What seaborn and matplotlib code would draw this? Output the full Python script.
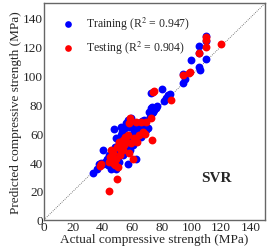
import matplotlib
matplotlib.use("Agg")
import matplotlib.pyplot as plt
import seaborn as sns
import pandas as pd

# training set (actual, predicted)
train_actual = [33.2, 35.9, 37.2, 38.8, 40.4, 41.7, 39.9, 42.6, 44.0, 44.4, 45.5, 46.2,
                47.3, 47.8, 48.5, 48.9, 49.4, 50.0, 51.2, 51.8, 52.3, 52.9, 53.4, 54.5,
                55.2, 55.6, 56.8, 56.8, 57.4, 58.0, 58.6, 59.0, 59.7, 60.1, 61.3, 61.9,
                62.4, 62.8, 63.5, 64.2, 65.1, 65.7, 66.4, 67.3, 68.0, 69.1, 70.9, 71.3,
                71.8, 72.5, 73.1, 73.6, 74.0, 74.7, 75.8, 77.0, 72.5, 80.3, 81.4, 83.0,
                84.4, 85.3, 94.5, 94.5, 95.6, 100.0, 105.0, 105.0, 105.4, 105.7, 110.0,
                110.0, 110.0, 43.3, 46.7, 47.8, 48.9, 51.2, 53.8, 58.3, 52.3, 55.6]
train_pred = [32.7, 35.3, 38.5, 39.5, 38.5, 40.2, 48.3, 42.5, 44.8, 40.2, 35.1, 38.3,
              62.9, 46.0, 50.6, 56.4, 48.3, 43.6, 52.9, 47.1, 58.7, 61.0, 50.6, 55.3,
              63.4, 48.3, 39.0, 69.2, 51.8, 58.7, 64.5, 70.3, 56.4, 51.8, 61.0, 64.5,
              42.5, 56.4, 66.9, 62.2, 65.7, 57.6, 68.5, 64.5, 69.2, 62.2, 63.4, 75.0,
              71.5, 77.3, 73.8, 78.5, 75.0, 76.2, 77.3, 79.2, 87.8, 90.5, 82.0, 84.3,
              86.6, 87.3, 94.7, 101.0, 97.5, 110.5, 115.6, 120.7, 105.9, 103.6, 127.2,
              123.7, 111.4, 37.8, 36.7, 41.3, 35.5, 40.2, 44.8, 48.3, 64.5, 66.9]

# testing set (actual, predicted)
test_actual = [44.4, 49.4, 38.1, 38.8, 44.4, 45.1, 45.5, 46.7, 47.1, 47.8, 48.5, 48.9,
               49.6, 50.5, 51.6, 52.3, 52.9, 53.8, 54.5, 55.2, 56.1, 56.8, 57.4, 57.9,
               58.6, 59.0, 60.1, 61.3, 62.4, 63.1, 64.6, 65.7, 67.0, 68.4, 69.1, 72.5,
               73.6, 74.0, 74.7, 86.4, 94.5, 98.7, 99.4, 105.0, 110.0, 110.0, 110.0,
               120.0, 50.7, 53.4]
test_pred = [20.0, 28.3, 37.4, 39.0, 40.2, 43.6, 48.3, 46.0, 41.3, 39.0, 37.8, 42.5,
             50.6, 36.7, 44.8, 48.3, 51.8, 55.3, 51.8, 57.6, 54.1, 58.7, 46.4, 66.9,
             70.8, 52.9, 42.5, 56.4, 67.6, 54.1, 58.7, 67.6, 61.0, 59.2, 68.0, 70.8,
             55.3, 88.9, 89.4, 82.7, 100.1, 101.7, 102.2, 115.6, 126.5, 124.9, 119.6,
             122.1, 54.1, 48.3]

train_label = "Training (R$^2$ = 0.947)"
test_label = "Testing (R$^2$ = 0.904)"
ticks = [0, 20, 40, 60, 80, 100, 120, 140]

sns.set_theme(style="white")
plt.rcParams['font.family'] = ['Liberation Serif', 'DejaVu Serif']
plt.rcParams['mathtext.fontset'] = 'stix'

df_train = pd.DataFrame({"actual": train_actual, "pred": train_pred})
df_test = pd.DataFrame({"actual": test_actual, "pred": test_pred})

fig = plt.figure(figsize=(2.71, 2.53), dpi=100)
ax = fig.add_axes([0.162, 0.127, 0.816, 0.856])

ax.plot([0, 150], [0, 150], linestyle=(0, (1, 1.5)), color="#555555", linewidth=0.6, zorder=1)
sns.scatterplot(data=df_train, x="actual", y="pred", color="blue", s=32, linewidth=0,
                label=train_label, ax=ax, zorder=2)
sns.scatterplot(data=df_test, x="actual", y="pred", color="red", s=32, linewidth=0,
                label=test_label, ax=ax, zorder=3)

ax.set_xlim(0, 150)
ax.set_ylim(0, 150)
ax.set_xticks(ticks)
ax.set_yticks(ticks)
ax.tick_params(labelsize=9.5, length=0, pad=0.5)
ax.set_xlabel("Actual compressive strength (MPa)", fontsize=9.5, labelpad=0)
ax.set_ylabel("Predicted compressive strength (MPa)", fontsize=9.5, labelpad=1)
for sp in ax.spines.values():
    sp.set_color("#666666")
    sp.set_linewidth(1.0)

ax.text(117, 29, "SVR", fontsize=11, fontweight="bold", ha="center", va="center")
ax.legend(loc="upper left", frameon=False, fontsize=8.5, handletextpad=0.6,
          markerscale=0.85, borderaxespad=0.5, labelspacing=0.55, borderpad=0.5)

fig.savefig("out.png", dpi=100)
